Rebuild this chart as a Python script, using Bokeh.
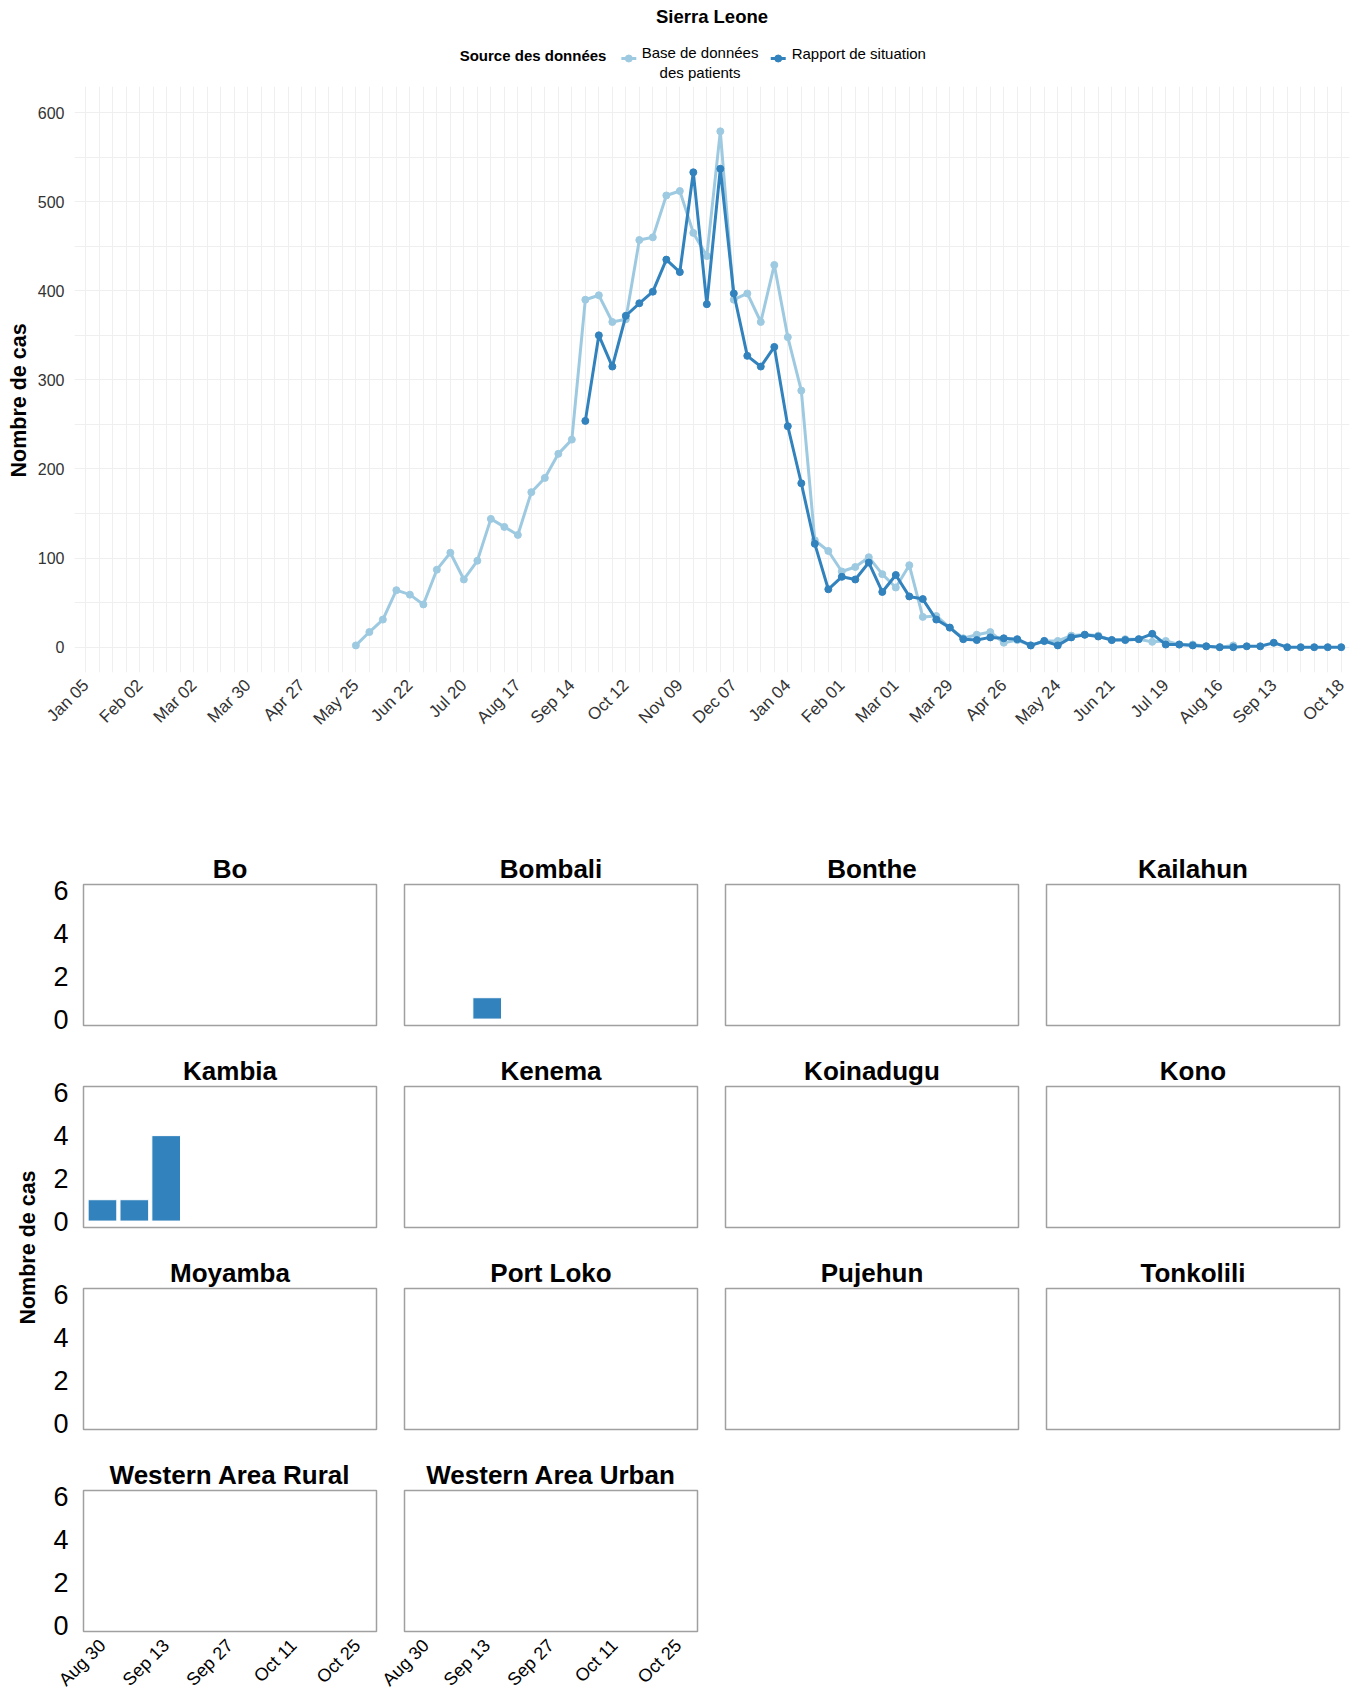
import pandas as pd
from math import pi
from bokeh.plotting import figure
from bokeh.layouts import column, row
from bokeh.core.properties import value
from bokeh.models import (Range1d, FixedTicker, SingleIntervalTicker, DatetimeTickFormatter,
                          Title, ColumnDataSource, Label)
from bokeh.embed import file_html
from bokeh.resources import INLINE

FONT = "Liberation Sans"
LIGHT = "#9ecae1"
DARK = "#3182bd"

# ---------------- main chart data (weekly, Sunday dates) ----------------
patient_db_start = "2014-05-25"
patient_db_cases = [2, 17, 31, 64, 59, 48, 87, 106, 76, 97, 144, 135, 126, 174, 190, 217, 233,
                    390, 395, 365, 368, 457, 460, 507, 512, 465, 439, 579,
                    390, 397, 365, 429, 348, 288, 120, 108, 85, 90, 101, 82,
                    67, 92, 34, 35, 22, 10, 14, 17, 5, 8, 2, 7, 7, 13, 14, 13, 8,
                    9, 9, 6, 7, 3, 3, 1, 0, 2]
sitrep_start = "2014-09-21"
sitrep_cases = [254, 350, 315, 372, 386, 399, 435, 421, 533, 385, 537,
                397, 327, 315, 337, 248, 184, 116, 65, 79, 76, 95, 62,
                81, 57, 54, 31, 22, 9, 8, 11, 10, 9, 2, 7, 2, 11, 14, 12, 8,
                8, 9, 15, 3, 3, 2, 1, 0, 0,
                1, 1, 5, 0, 0, 0, 0, 0]
main_tick_dates = ["2014-01-05", "2014-02-02", "2014-03-02", "2014-03-30", "2014-04-27",
                   "2014-05-25", "2014-06-22", "2014-07-20", "2014-08-17", "2014-09-14",
                   "2014-10-12", "2014-11-09", "2014-12-07", "2015-01-04", "2015-02-01",
                   "2015-03-01", "2015-03-29", "2015-04-26", "2015-05-24", "2015-06-21",
                   "2015-07-19", "2015-08-16", "2015-09-13", "2015-10-18"]
legend_title = "Source des données"
series_names = ["Base de données des patients", "Rapport de situation"]
series_colors = [LIGHT, DARK]

# ---------------- district facets data ----------------
districts = ["Bo", "Bombali", "Bonthe", "Kailahun", "Kambia", "Kenema", "Koinadugu", "Kono",
             "Moyamba", "Port Loko", "Pujehun", "Tonkolili", "Western Area Rural", "Western Area Urban"]
facet_weeks = ["2015-08-30", "2015-09-06", "2015-09-13"]
bo_cases = [0, 0, 0]
bombali_cases = [0, 0, 1]
bonthe_cases = [0, 0, 0]
kailahun_cases = [0, 0, 0]
kambia_cases = [1, 1, 4]
kenema_cases = [0, 0, 0]
koinadugu_cases = [0, 0, 0]
kono_cases = [0, 0, 0]
moyamba_cases = [0, 0, 0]
port_loko_cases = [0, 0, 0]
pujehun_cases = [0, 0, 0]
tonkolili_cases = [0, 0, 0]
war_cases = [0, 0, 0]
wau_cases = [0, 0, 0]
facet_cases = [bo_cases, bombali_cases, bonthe_cases, kailahun_cases, kambia_cases, kenema_cases,
               koinadugu_cases, kono_cases, moyamba_cases, port_loko_cases, pujehun_cases,
               tonkolili_cases, war_cases, wau_cases]
facet_tick_dates = ["2015-08-30", "2015-09-13", "2015-09-27", "2015-10-11", "2015-10-25"]
facet_y_ticks = [0, 2, 4, 6]


def ms(d):
    return pd.Timestamp(d).value // 10**6


def date_fmt():
    f = "%b %d"
    return DatetimeTickFormatter(days=f, months=f, years=f, hours=f, hourmin=f,
                                 minutes=f, minsec=f, seconds=f, milliseconds=f, microseconds=f)


def bare(fig):
    fig.outline_line_color = None
    fig.grid.visible = False


# ---------------- header: title + legend (screen-pixel coordinates) ----------------
header = figure(width=1356, height=86, x_range=Range1d(69, 1349), y_range=Range1d(86, 30),
                min_border_left=69, min_border_right=7, min_border_top=30, min_border_bottom=0,
                x_axis_location=None, y_axis_location=None,
                output_backend="svg", toolbar_location=None)
bare(header)
header.title.text = "Sierra Leone"
header.title.align = "center"
header.title.text_font = FONT
header.title.text_font_size = "18.5px"
header.title.text_font_style = "bold"
header.title.text_color = "black"
header.title.standoff = 7

# legend layout (pixel positions of the legend keys and labels)
key_x = [618, 768]
key_y = 58
key_len = 15
header.segment(x0=key_x, y0=[key_y] * 2, x1=[k + key_len for k in key_x], y1=[key_y] * 2,
               line_color=series_colors, line_width=3)
header.scatter(x=[k + key_len / 2 for k in key_x], y=[key_y] * 2, size=7,
               fill_color=series_colors, line_color=series_colors)
first_lines = series_names[0].split(" des ")
header.text(x=[697, 697], y=[51.5, 72], text=[first_lines[0], "des " + first_lines[1]],
            text_align="center", text_baseline="middle", text_font=value(FONT),
            text_font_size="15px", text_color="black")
header.text(x=[789], y=[53], text=[series_names[1]], text_align="left", text_baseline="middle",
            text_font=value(FONT), text_font_size="15px", text_color="black")
header.add_layout(Label(x=603, y=54.5, text=legend_title, text_align="right", text_baseline="middle",
                        text_font=FONT, text_font_size="15px", text_font_style="bold",
                        text_color="black"))

# ---------------- main figure ----------------
p = figure(width=1356, height=750, x_axis_type="datetime",
           x_range=Range1d(pd.Timestamp("2013-12-30 02:00"), pd.Timestamp("2015-10-22 07:00")),
           y_range=Range1d(-28.4, 629.3),
           min_border_left=69, min_border_right=7, min_border_top=0, min_border_bottom=164,
           output_backend="svg", toolbar_location=None)
p.outline_line_color = None

src_l = ColumnDataSource(dict(date=pd.date_range(patient_db_start, periods=len(patient_db_cases), freq="7D"),
                              cases=patient_db_cases))
src_d = ColumnDataSource(dict(date=pd.date_range(sitrep_start, periods=len(sitrep_cases), freq="7D"),
                              cases=sitrep_cases))
p.line("date", "cases", source=src_l, line_color=LIGHT, line_width=3)
p.scatter("date", "cases", source=src_l, size=7, fill_color=LIGHT, line_color=LIGHT)
p.line("date", "cases", source=src_d, line_color=DARK, line_width=3)
p.scatter("date", "cases", source=src_d, size=7, fill_color=DARK, line_color=DARK)

weekly = [ms(d) for d in pd.date_range("2013-12-29", "2015-10-25", freq="7D")]
p.xgrid.ticker = FixedTicker(ticks=weekly)
p.ygrid.ticker = SingleIntervalTicker(interval=50)
p.xgrid.grid_line_color = "#efefef"
p.ygrid.grid_line_color = "#efefef"

p.xaxis.ticker = FixedTicker(ticks=[ms(d) for d in main_tick_dates])
p.xaxis.formatter = date_fmt()
p.xaxis.major_label_orientation = pi / 4
p.yaxis.ticker = SingleIntervalTicker(interval=100)
for ax in (p.xaxis[0], p.yaxis[0]):
    ax.axis_line_color = None
    ax.major_tick_line_color = None
    ax.minor_tick_line_color = None
    ax.major_label_text_font = FONT
    ax.major_label_text_font_size = "16px"
    ax.major_label_text_color = "#333333"
    ax.major_label_standoff = 4
p.xaxis.major_label_text_font_size = "17px"
p.add_layout(Title(text="Nombre de cas", align="left", offset=195, standoff=8, text_font=FONT,
                   text_font_size="21.5px", text_font_style="bold", text_color="black"), "left")

# ---------------- facets ----------------
fx_range = (pd.Timestamp("2015-08-25 20:00"), pd.Timestamp("2015-10-29 05:00"))
FW, FH, TOP = 293, 141, 48
lefts = [35, 26, 14, 14]
rights = [2, 14, 14, 14]


def facet(i):
    col = i % 4
    rw = i // 4
    has_y = col == 0
    has_x = rw == 3
    bottom = 68 if has_x else 13
    f = figure(width=lefts[col] + FW + rights[col], height=TOP + FH + bottom,
               x_axis_type="datetime", x_range=Range1d(*fx_range), y_range=Range1d(-0.3, 6.3),
               x_axis_location="below" if has_x else None,
               y_axis_location="left" if has_y else None,
               min_border_left=lefts[col], min_border_right=rights[col],
               min_border_top=TOP, min_border_bottom=bottom,
               output_backend="svg", toolbar_location=None)
    f.title.text = districts[i]
    f.title.align = "center"
    f.title.text_font = FONT
    f.title.text_font_size = "26px"
    f.title.text_font_style = "bold"
    f.title.text_color = "black"
    f.title.standoff = 2
    f.grid.visible = False
    f.outline_line_color = "#a0a0a0"
    f.outline_line_width = 1.5
    vals = facet_cases[i]
    xs = [pd.Timestamp(w) for w, v in zip(facet_weeks, vals) if v > 0]
    ys = [v for v in vals if v > 0]
    if xs:
        f.vbar(x=xs, top=ys, bottom=0, width=6.3 * 86400000, fill_color=DARK,
               line_color="white", line_width=1)
    if has_y:
        ya = f.yaxis[0]
        ya.ticker = FixedTicker(ticks=facet_y_ticks)
        ya.axis_line_color = None
        ya.major_tick_line_color = None
        ya.minor_tick_line_color = None
        ya.major_label_text_font = FONT
        ya.major_label_text_font_size = "27px"
        ya.major_label_text_color = "black"
        ya.major_label_standoff = 9
    if has_x:
        xa = f.xaxis[0]
        xa.ticker = FixedTicker(ticks=[ms(d) for d in facet_tick_dates])
        xa.formatter = date_fmt()
        xa.major_label_orientation = pi / 4
        xa.axis_line_color = None
        xa.major_tick_line_color = None
        xa.minor_tick_line_color = None
        xa.major_label_text_font = FONT
        xa.major_label_text_font_size = "18px"
        xa.major_label_text_color = "black"
        xa.major_label_standoff = 5
    return f


facets = [facet(i) for i in range(len(districts))]
rows = [row(*facets[k:k + 4]) for k in range(0, len(facets), 4)]
grid = column(*rows)

yl = figure(width=48, height=853, x_range=Range1d(0, 1), y_range=Range1d(0, 1),
            min_border_left=40, min_border_right=0, min_border_top=0, min_border_bottom=31,
            x_axis_location=None, y_axis_location=None,
            output_backend="svg", toolbar_location=None)
bare(yl)
yl.add_layout(Title(text="Nombre de cas", align="center", text_font=FONT, text_font_size="21.5px",
                    text_font_style="bold", text_color="black", standoff=2), "left")

layout = column(header, p, row(yl, grid))
open("out.html", "w").write(file_html(layout, INLINE))
